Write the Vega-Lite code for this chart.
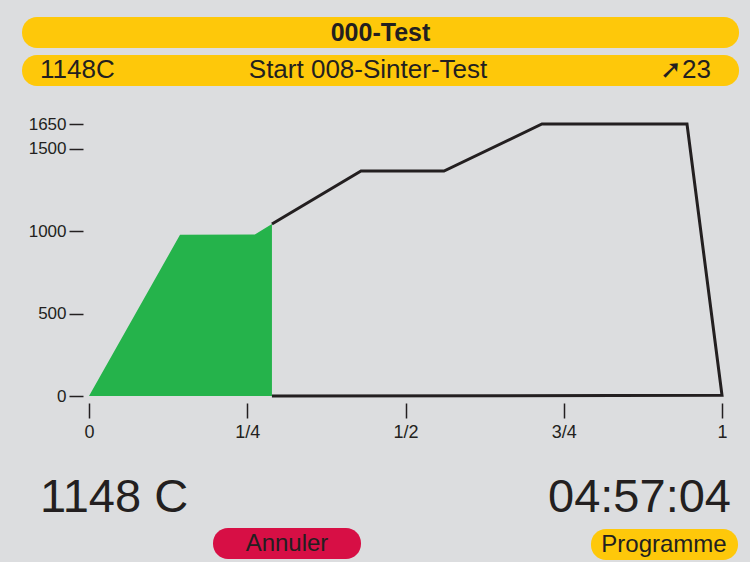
{
  "$schema": "https://vega.github.io/schema/vega-lite/v6.json",
  "width": 633,
  "height": 272,
  "autosize": {"type": "none"},
  "padding": {"left": 89, "top": 124, "right": 28, "bottom": 166},
  "background": "#dcdddf",
  "config": {"view": {"stroke": null}, "axis": {"title": null}},
  "datasets": {
    "profile": [
      {"t": 0.289, "temp": 1043, "o": 1},
      {"t": 0.4297, "temp": 1365, "o": 2},
      {"t": 0.5608, "temp": 1365, "o": 3},
      {"t": 0.7156, "temp": 1650, "o": 4},
      {"t": 0.9447, "temp": 1650, "o": 5},
      {"t": 1.0, "temp": 4, "o": 6},
      {"t": 0.289, "temp": 0, "o": 7}
    ],
    "done": [
      {"t": 0, "temp": 0},
      {"t": 0.1438, "temp": 978},
      {"t": 0.262, "temp": 980},
      {"t": 0.289, "temp": 1043}
    ],
    "pills": [
      {"name": "title", "t": -0.1058, "t2": 1.0269, "temp": 2299, "temp2": 2111, "kind": "yellow"},
      {"name": "status", "t": -0.1058, "t2": 1.0269, "temp": 2069, "temp2": 1880, "kind": "yellow"},
      {"name": "Annuler", "t": 0.1959, "t2": 0.4297, "temp": -801, "temp2": -989, "kind": "red"},
      {"name": "Programme", "t": 0.793, "t2": 1.0253, "temp": -807, "temp2": -995, "kind": "yellow"}
    ],
    "headCenter": [
      {"label": "Start 008-Sinter-Test", "t": 0.4408, "temp": 1975}
    ],
    "headLeft": [
      {"label": "1148C", "t": -0.0774, "temp": 1975}
    ],
    "headRight": [
      {"label": "➚23", "t": 0.9826, "temp": 1975}
    ],
    "titleText": [
      {"label": "000-Test", "t": 0.4605, "temp": 2205}
    ],
    "bigLeft": [
      {"label": "1148 C", "t": -0.0774, "temp": -704}
    ],
    "bigRight": [
      {"label": "04:57:04", "t": 1.0142, "temp": -704}
    ],
    "buttons": [
      {"label": "Annuler", "t": 0.3128, "temp": -940},
      {"label": "Programme", "t": 0.9084, "temp": -946}
    ]
  },
  "layer": [
    {
      "data": {"name": "done"},
      "mark": {"type": "area", "color": "#25b34b", "line": false},
      "encoding": {
        "x": {
          "field": "t", "type": "quantitative",
          "scale": {"domain": [0, 1], "nice": false, "zero": false},
          "axis": {
            "values": [0, 0.25, 0.5, 0.75, 1],
            "labelExpr": "datum.value == 0 ? '0' : datum.value == 0.25 ? '1/4' : datum.value == 0.5 ? '1/2' : datum.value == 0.75 ? '3/4' : '1'",
            "domain": false, "grid": false,
            "offset": 7, "tickSize": 15, "tickWidth": 1.5, "tickColor": "#231f20",
            "labelPadding": 5, "labelFlush": false, "labelOverlap": false,
            "labelFont": "Liberation Sans", "labelFontSize": 18, "labelColor": "#231f20",
            "title": null
          }
        },
        "y": {
          "field": "temp", "type": "quantitative",
          "scale": {"domain": [0, 1650], "nice": false},
          "axis": {
            "values": [0, 500, 1000, 1500, 1650],
            "format": "d",
            "domain": false, "grid": false,
            "offset": 6, "tickSize": 14, "tickWidth": 1.5, "tickColor": "#231f20",
            "labelPadding": 3, "labelFlush": false, "labelOverlap": false,
            "labelFont": "Liberation Sans", "labelFontSize": 17, "labelColor": "#231f20",
            "title": null
          }
        }
      }
    },
    {
      "data": {"name": "profile"},
      "mark": {"type": "line", "color": "#231f20", "strokeWidth": 3, "strokeJoin": "miter"},
      "encoding": {
        "x": {"field": "t", "type": "quantitative"},
        "y": {"field": "temp", "type": "quantitative"},
        "order": {"field": "o", "type": "quantitative"}
      }
    },
    {
      "data": {"name": "pills"},
      "mark": {"type": "rect", "cornerRadius": 15},
      "encoding": {
        "x": {"field": "t", "type": "quantitative"},
        "x2": {"field": "t2"},
        "y": {"field": "temp", "type": "quantitative"},
        "y2": {"field": "temp2"},
        "color": {
          "field": "kind", "type": "nominal",
          "scale": {"domain": ["yellow", "red"], "range": ["#fec80a", "#d70f45"]},
          "legend": null
        }
      }
    },
    {
      "data": {"name": "titleText"},
      "mark": {"type": "text", "font": "Liberation Sans", "fontWeight": "bold", "fontSize": 25, "align": "center", "baseline": "middle", "color": "#231f20"},
      "encoding": {
        "x": {"field": "t", "type": "quantitative"},
        "y": {"field": "temp", "type": "quantitative"},
        "text": {"field": "label"}
      }
    },
    {
      "data": {"name": "headCenter"},
      "mark": {"type": "text", "font": "Liberation Sans", "fontSize": 26, "align": "center", "baseline": "middle", "color": "#231f20"},
      "encoding": {
        "x": {"field": "t", "type": "quantitative"},
        "y": {"field": "temp", "type": "quantitative"},
        "text": {"field": "label"}
      }
    },
    {
      "data": {"name": "headLeft"},
      "mark": {"type": "text", "font": "Liberation Sans", "fontSize": 26, "align": "left", "baseline": "middle", "color": "#231f20"},
      "encoding": {
        "x": {"field": "t", "type": "quantitative"},
        "y": {"field": "temp", "type": "quantitative"},
        "text": {"field": "label"}
      }
    },
    {
      "data": {"name": "headRight"},
      "mark": {"type": "text", "font": "Liberation Sans", "fontSize": 26, "align": "right", "baseline": "middle", "color": "#231f20"},
      "encoding": {
        "x": {"field": "t", "type": "quantitative"},
        "y": {"field": "temp", "type": "quantitative"},
        "text": {"field": "label"}
      }
    },
    {
      "data": {"name": "bigLeft"},
      "mark": {"type": "text", "font": "Liberation Sans", "fontSize": 47, "align": "left", "baseline": "alphabetic", "color": "#231f20"},
      "encoding": {
        "x": {"field": "t", "type": "quantitative"},
        "y": {"field": "temp", "type": "quantitative"},
        "text": {"field": "label"}
      }
    },
    {
      "data": {"name": "bigRight"},
      "mark": {"type": "text", "font": "Liberation Sans", "fontSize": 47, "align": "right", "baseline": "alphabetic", "color": "#231f20"},
      "encoding": {
        "x": {"field": "t", "type": "quantitative"},
        "y": {"field": "temp", "type": "quantitative"},
        "text": {"field": "label"}
      }
    },
    {
      "data": {"name": "buttons"},
      "mark": {"type": "text", "font": "Liberation Sans", "fontSize": 24, "align": "center", "baseline": "alphabetic", "color": "#231f20"},
      "encoding": {
        "x": {"field": "t", "type": "quantitative"},
        "y": {"field": "temp", "type": "quantitative"},
        "text": {"field": "label"}
      }
    }
  ]
}
